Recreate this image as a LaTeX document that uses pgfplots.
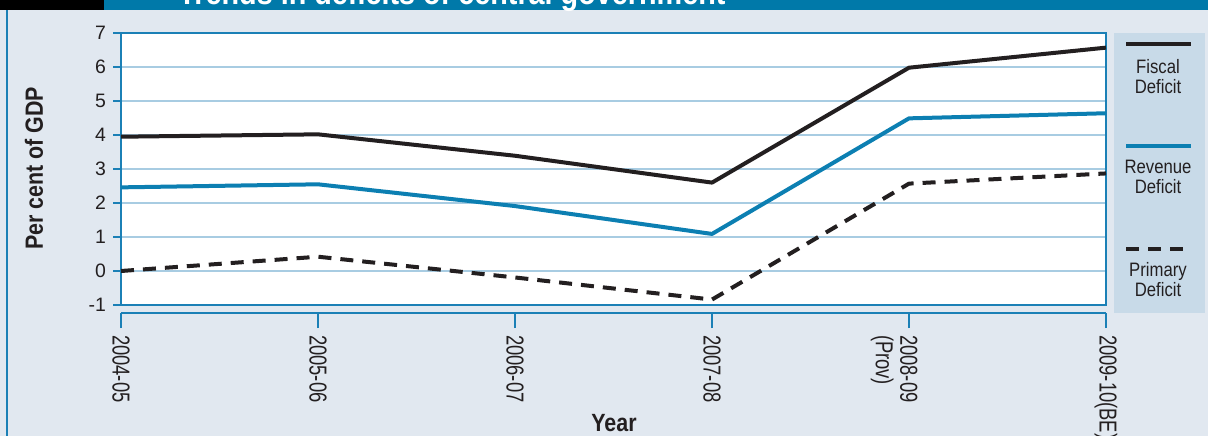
\documentclass[border=0pt]{standalone}
\usepackage{fontspec}
\setmainfont[FakeStretch=0.86]{Liberation Sans}
\newfontfamily\xtfont[FakeStretch=0.75]{Liberation Sans}
\newfontfamily\ytfont{Liberation Sans}
\usepackage{pgfplots}
\pgfplotsset{compat=1.18}
\definecolor{bg}{HTML}{E1E8F0}
\definecolor{legbg}{HTML}{C8DAE8}
\definecolor{framec}{HTML}{1B80B6}
\definecolor{gridc}{HTML}{A8CCE2}
\definecolor{fisc}{HTML}{231F20}
\definecolor{rev}{HTML}{0C7FB2}
\definecolor{headteal}{HTML}{0079A9}
\definecolor{txt}{HTML}{231F20}

\begin{document}
\begin{tikzpicture}
\useasboundingbox (0,0) rectangle (604bp,218bp);
\begin{scope}
\clip (0,0) rectangle (604bp,218bp);
\fill[bg] (0,0) rectangle (604bp,218bp);
\fill[headteal] (0,212.75bp) rectangle (604bp,218bp);
\fill[black] (0,212.75bp) rectangle (52bp,218bp);
\node[anchor=base west, text=white, font=\bfseries\fontsize{16.8}{18}\selectfont, inner sep=0pt] at (89bp,215.5bp) {Trends in deficits of central government};
\draw[framec, line width=1bp] (3.3bp,0) -- (3.3bp,212.75bp);
\end{scope}
% legend
\fill[legbg] (557bp,61.5bp) rectangle (602.5bp,201.5bp);
\draw[fisc, line width=2bp] (563bp,196bp) -- (595.5bp,196bp);
\node[align=center, font=\fontsize{9.75}{10}\selectfont, text=txt, inner sep=0pt] at (579bp,179.5bp) {Fiscal\\Deficit};
\draw[rev, line width=2bp] (563bp,145bp) -- (595.5bp,145bp);
\node[align=center, font=\fontsize{9.75}{10}\selectfont, text=txt, inner sep=0pt] at (579bp,129.5bp) {Revenue\\Deficit};
\draw[fisc, line width=2bp, dash pattern=on 6.5bp off 4.5bp] (563bp,93.5bp) -- (595.5bp,93.5bp);
\node[align=center, font=\fontsize{9.75}{10}\selectfont, text=txt, inner sep=0pt] at (579bp,78bp) {Primary\\Deficit};

\begin{axis}[
  at={(60.5bp,65.5bp)}, anchor=south west, scale only axis,
  width=492.5bp, height=136bp,
  xmin=0, xmax=5, ymin=-1, ymax=7,
  xtick=\empty, ytick={-1,0,...,7},
  ymajorgrids, grid style={gridc, line width=0.6bp},
  axis line style={framec, line width=0.9bp},
  ytick pos=left, tick align=outside, major tick length=4bp,
  tick style={framec, line width=0.7bp},
  yticklabel style={font=\ytfont\fontsize{9.75}{10}\selectfont, text=txt},
  /pgf/number format/assume math mode=true,
  ylabel={Per cent of GDP},
  ylabel style={at={(axis description cs:-0.0883,0.502)}, anchor=center, font=\bfseries\fontsize{12.5}{14}\selectfont, text=txt},
  axis background/.style={fill=white},
]
\addplot[fisc, line width=2bp, line join=round] coordinates {(0,3.95) (1,4.02) (2,3.39) (3,2.60) (4,5.98) (5,6.57)};
\addplot[rev, line width=2bp, line join=round] coordinates {(0,2.46) (1,2.55) (2,1.91) (3,1.09) (4,4.49) (5,4.64)};
\addplot[fisc, line width=2bp, line join=round, dash pattern=on 6.5bp off 4.5bp] coordinates {(0,0.0) (1,0.42) (2,-0.19) (3,-0.84) (4,2.57) (5,2.87)};
\end{axis}

\begin{axis}[
  at={(60.5bp,61.5bp)}, anchor=south west, scale only axis,
  width=492.5bp, height=1bp,
  xmin=0, xmax=5, ymin=0, ymax=1,
  axis x line*=bottom, axis y line=none,
  xtick={0,1,2,3,4,5},
  xticklabels={2004-05,2005-06,2006-07,2007-08,{\raisebox{0pt}[\height][0pt]{\vtop{\hbox{2008-09}\hbox{(Prov)}}}},2009-10(BE)},
  tick align=outside, major tick length=7.5bp,
  tick style={framec, line width=0.7bp},
  axis line style={framec, line width=0.9bp},
  xticklabel style={rotate=-90, anchor=west, font=\xtfont\fontsize{12.3}{12.3}\selectfont, text=txt},
]
\end{axis}
\node[font=\bfseries\fontsize{12.5}{14}\selectfont, text=txt] at (307bp,6.5bp) {Year};
\end{tikzpicture}
\end{document}
